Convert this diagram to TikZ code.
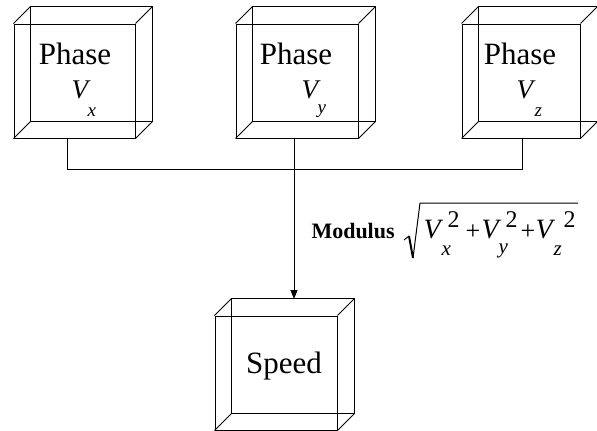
\documentclass[tikz,border=0pt]{standalone}
\usepackage{fontspec}
\setmainfont{Liberation Serif}
\usetikzlibrary{arrows.meta}
\newcommand\drawcube[1]{%
  \draw ([shift={(17,-17)}]#1.north west) rectangle ([shift={(17,-17)}]#1.south east);
  \draw (#1.north west) -- ++(17,-17) (#1.north east) -- ++(17,-17)
        (#1.south west) -- ++(17,-17) (#1.south east) -- ++(17,-17);}
\begin{document}
\begin{tikzpicture}[x=1pt,y=-1pt,line width=1pt,
  face/.style={draw,minimum height=114pt,inner sep=0pt},
  lbl/.style={font=\fontsize{31}{31}\selectfont,anchor=base,inner sep=0pt},
  vv/.style={font=\fontsize{27}{27}\selectfont\itshape,anchor=base west,inner sep=0pt},
  sb/.style={font=\fontsize{19}{19}\selectfont\itshape,anchor=base west,inner sep=0pt},
  rv/.style={font=\fontsize{28}{28}\selectfont\itshape,anchor=base west,inner sep=0pt},
  rs/.style={font=\fontsize{21}{21}\selectfont\itshape,anchor=base west,inner sep=0pt},
  rp/.style={font=\fontsize{24}{24}\selectfont,anchor=base west,inner sep=0pt},
  pl/.style={font=\fontsize{26}{26}\selectfont,anchor=base west,inner sep=0pt}]
\useasboundingbox (0,0) rectangle (597,431);
% boxes
\node[face,minimum width=121pt] (p1) at (74.5,81) {};
\node[face,minimum width=122pt] (p2) at (297,81) {};
\node[face,minimum width=118pt] (p3) at (521,81) {};
\node[face,minimum width=122pt] (sp) at (276,373) {};
\drawcube{p1}\drawcube{p2}\drawcube{p3}\drawcube{sp}
% texts in boxes
\node[lbl] (t1) at (75,64) {Phase};
\node[vv] (v1) at (71,98) {V};
\node[sb] (s1) at (87,116) {x};
\node[lbl] (t2) at (296,64) {Phase};
\node[vv] (v2) at (301,98) {V};
\node[sb] (s2) at (317,113) {y};
\node[lbl] (t3) at (520,64) {Phase};
\node[vv] (v3) at (516,98) {V};
\node[sb] (s3) at (534,116) {z};
\node[lbl] (t4) at (284,373) {Speed};
% connectors
\coordinate (j1) at (67,169);
\coordinate (j3) at (522,169);
\coordinate (ar) at (294,299);
\draw (p1.south -| j1) -- (j1) -- (j3) -- (p3.south -| j3);
\draw[-{Triangle[length=9pt,width=7pt]}] (p2.south -| ar) -- (ar);
% modulus label
\node[font=\fontsize{22}{22}\selectfont\bfseries,anchor=base west,inner sep=0pt] (mod) at (311,238) {Modulus};
\draw (404,240) -- (409,236);
\draw[line width=2pt] (409,236) -- (413,258);
\draw (413,258) -- (420,203) -- (578,203);
\node[rv] (rv1) at (423,238) {V};
\node[rs] (rs1) at (441,255) {x};
\node[rp] (rp1) at (447,227) {2};
\node[pl] (pl1) at (465,239) {+};
\node[rv] (rv2) at (481,238) {V};
\node[rs] (rs2) at (498,253) {y};
\node[rp] (rp2) at (505,227) {2};
\node[pl] (pl2) at (520,239) {+};
\node[rv] (rv3) at (535,238) {V};
\node[rs] (rs3) at (553,255) {z};
\node[rp] (rp3) at (563,227) {2};
\end{tikzpicture}
\end{document}
